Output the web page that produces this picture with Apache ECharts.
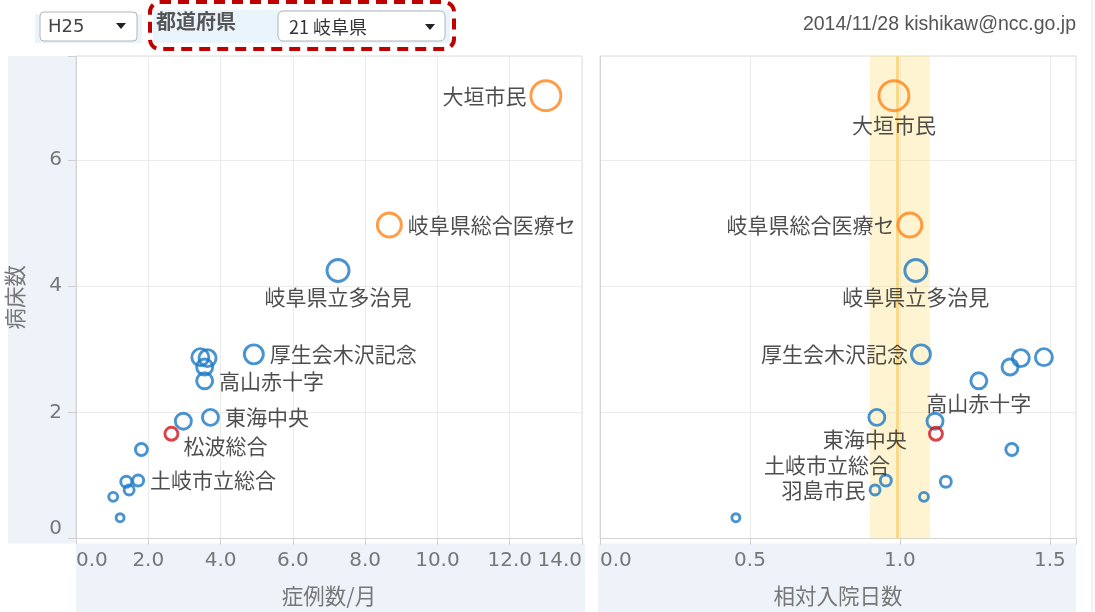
<!DOCTYPE html>
<html>
<head>
<meta charset="utf-8">
<script src="https://cdn.jsdelivr.net/npm/echarts@6/dist/echarts.min.js"></script>
<style>
  html, body { margin: 0; padding: 0; background: #fff; }
  #chart { width: 1095px; height: 612px; }
</style>
</head>
<body>
<div id="chart"></div>
<script>
// 病院ごとのデータ
const hospitalNames = ['大垣市民', '岐阜県総合医療セ', '岐阜県立多治見', '厚生会木沢記念', '', '', '', '高山赤十字',
  '東海中央', '', '松波総合', '', '土岐市立総合', '', '羽島市民', '', '']
const casesPerMonth = [13.0, 8.67, 7.25, 4.92, 3.44, 3.64, 3.56, 3.56, 3.72, 2.97, 2.64, 1.81, 1.72, 1.39, 1.47, 1.03, 1.22]
const relativeStay = [0.98, 1.033, 1.053, 1.07, 1.48, 1.403, 1.367, 1.263, 0.923, 1.117, 1.12, 1.373, 0.953, 1.153, 0.917, 1.08, 0.453]
const bedCount = [7.02, 4.97, 4.25, 2.92, 2.875, 2.86, 2.72, 2.5, 1.92, 1.86, 1.66, 1.41, 0.92, 0.9, 0.77, 0.66, 0.33]
const hospitalGroup = ['high', 'high', 'base', 'base', 'base', 'base', 'base', 'base', 'base', 'base', 'self', 'base', 'base', 'base', 'base', 'base', 'base']
const circleMeasure = [33, 27, 25, 22, 20, 20, 19, 19, 19, 19, 16, 15, 14, 14, 13, 12, 11]
const stayBand = [0.9, 1.1]
const stayMean = 0.99

const groupColor = { high: '#ff8418', base: '#1c78c4', self: '#d0141b' }
const cjk = '"Noto Sans CJK JP", sans-serif'
const num = '"DejaVu Sans", sans-serif'

// ラベル位置
const leftLabels = {
  '大垣市民': { position: 'left', distance: 3 },
  '岐阜県総合医療セ': { position: 'right' },
  '岐阜県立多治見': { position: 'bottom', distance: 4 },
  '厚生会木沢記念': { position: 'right' },
  '高山赤十字': { position: 'right' },
  '東海中央': { position: 'right' },
  '松波総合': { position: [20, 20], align: 'left', verticalAlign: 'middle' },
  '土岐市立総合': { position: 'right' }
}
const rightLabels = {
  '大垣市民': { position: 'bottom', distance: 2 },
  '岐阜県総合医療セ': { position: 'left', distance: 2 },
  '岐阜県立多治見': { position: 'bottom', distance: 4 },
  '厚生会木沢記念': { position: 'left', distance: 2 },
  '高山赤十字': { position: 'bottom', distance: 2 },
  '東海中央': { position: 'bottom', distance: 2, offset: [-12, 0] },
  '土岐市立総合': { position: [11, -9], align: 'right', verticalAlign: 'middle' },
  '羽島市民': { position: 'left', distance: 3 }
}

function buildData (xs, labelConf) {
  return hospitalNames.map((name, i) => {
    const conf = name ? labelConf[name] : null
    return {
      name,
      value: [xs[i], bedCount[i]],
      symbolSize: circleMeasure[i] - 3,
      itemStyle: {
        color: 'rgba(0,0,0,0)',
        borderColor: groupColor[hospitalGroup[i]],
        borderWidth: 2.9
      },
      label: conf
        ? Object.assign({ show: true, formatter: name, color: '#222', fontSize: 21, fontFamily: cjk }, conf)
        : { show: false }
    }
  })
}

function onStep (v, step) {
  return Math.abs(v / step - Math.round(v / step)) < 1e-6
}

const axisLineStyle = { show: true, lineStyle: { color: '#d4d4d4' } }
const splitLineStyle = { show: true, lineStyle: { color: '#ebebeb' } }
const axisNameStyle = { color: '#777', fontSize: 21.5, fontFamily: cjk }
const tickLabelStyle = { color: '#777', fontSize: 20, fontFamily: num, margin: 12 }

const chart = echarts.init(document.getElementById('chart'))
chart.setOption({
  backgroundColor: '#fff',
  animation: false,
  grid: [
    { left: 76, top: 56, width: 506, bottom: 68.5, show: true, borderColor: '#dcdcdc', backgroundColor: 'transparent' },
    { left: 600, top: 56, width: 476, bottom: 68.5, show: true, borderColor: '#dcdcdc', backgroundColor: 'transparent' }
  ],
  xAxis: [
    {
      gridIndex: 0,
      type: 'value',
      min: 0,
      max: 14,
      interval: 2,
      name: '症例数/月',
      nameLocation: 'middle',
      nameGap: 47,
      nameTextStyle: axisNameStyle,
      axisLine: axisLineStyle,
      axisTick: { show: true, length: 6, lineStyle: { color: '#cfcfcf' } },
      axisLabel: Object.assign({
        alignMinLabel: 'left',
        alignMaxLabel: 'right',
        formatter: v => v.toFixed(1)
      }, tickLabelStyle),
      splitLine: splitLineStyle
    },
    {
      gridIndex: 1,
      type: 'value',
      min: 0,
      max: 1.587,
      interval: 0.5,
      name: '相対入院日数',
      nameLocation: 'middle',
      nameGap: 47,
      nameTextStyle: axisNameStyle,
      axisLine: axisLineStyle,
      axisTick: { show: true, length: 6, lineStyle: { color: '#cfcfcf' } },
      axisLabel: Object.assign({
        alignMinLabel: 'left',
        formatter: v => onStep(v, 0.5) ? v.toFixed(1) : ''
      }, tickLabelStyle),
      splitLine: splitLineStyle
    }
  ],
  yAxis: [
    {
      gridIndex: 0,
      type: 'value',
      min: 0,
      max: 7.65,
      interval: 2,
      name: '病床数',
      nameLocation: 'middle',
      nameGap: 50,
      nameRotate: 90,
      nameTextStyle: axisNameStyle,
      axisLine: axisLineStyle,
      axisTick: { show: true, length: 8, lineStyle: { color: '#cfcfcf' } },
      axisLabel: Object.assign({
        verticalAlignMinLabel: 'bottom',
        formatter: v => onStep(v, 2) ? String(v) : ''
      }, tickLabelStyle, { margin: 14 }),
      splitLine: splitLineStyle
    },
    {
      gridIndex: 1,
      type: 'value',
      min: 0,
      max: 7.65,
      interval: 2,
      axisLine: axisLineStyle,
      axisTick: { show: false },
      axisLabel: { show: false },
      splitLine: splitLineStyle
    }
  ],
  series: [
    {
      type: 'scatter',
      xAxisIndex: 0,
      yAxisIndex: 0,
      symbol: 'circle',
      emphasis: { disabled: true },
      data: buildData(casesPerMonth, leftLabels)
    },
    {
      type: 'scatter',
      xAxisIndex: 1,
      yAxisIndex: 1,
      symbol: 'circle',
      emphasis: { disabled: true },
      markArea: {
        silent: true,
        z: 1,
        itemStyle: { color: 'rgba(255, 224, 120, 0.34)' },
        data: [[{ xAxis: stayBand[0] }, { xAxis: stayBand[1] }]]
      },
      markLine: {
        silent: true,
        z: 1,
        symbol: 'none',
        label: { show: false },
        lineStyle: { color: '#f9d88a', width: 3, type: 'solid' },
        data: [{ xAxis: stayMean }]
      },
      data: buildData(relativeStay, rightLabels)
    }
  ],
  graphic: [
    // 軸の背景
    { type: 'rect', z: -1, shape: { x: 8, y: 56, width: 68, height: 487.5 }, style: { fill: '#eef3fa' } },
    { type: 'rect', z: -1, shape: { x: 76, y: 543.5, width: 509, height: 70 }, style: { fill: '#eef3fa' } },
    { type: 'rect', z: -1, shape: { x: 598, y: 543.5, width: 478, height: 70 }, style: { fill: '#eef3fa' } },
    { type: 'line', z: -1, shape: { x1: 1092, y1: 0, x2: 1092, y2: 612 }, style: { stroke: '#e6e6e6', lineWidth: 1 } },
    // 年度
    { type: 'rect', shape: { x: 35, y: 14, width: 107, height: 29 }, style: { fill: '#eaf4fc' } },
    { type: 'rect', shape: { x: 40, y: 12, width: 97, height: 29, r: 4 }, style: { fill: '#fff', stroke: '#b4b4b4', lineWidth: 1 } },
    { type: 'text', style: { x: 48, y: 27, text: 'H25', fill: '#444', font: '18px "DejaVu Sans", sans-serif', verticalAlign: 'middle' } },
    { type: 'polygon', shape: { points: [[116, 23], [126, 23], [121, 29]] }, style: { fill: '#222' } },
    // 都道府県
    { type: 'rect', shape: { x: 153, y: 10, width: 297, height: 33 }, style: { fill: '#eaf4fc' } },
    { type: 'text', style: { x: 156, y: 21, text: '都道府県', fill: '#555', font: 'bold 20px "Noto Sans CJK JP", sans-serif', verticalAlign: 'middle' } },
    { type: 'rect', shape: { x: 278, y: 11, width: 167, height: 30, r: 5 }, style: { fill: '#fff', stroke: '#b4b4b4', lineWidth: 1 } },
    { type: 'text', style: { x: 289, y: 27, text: '21 岐阜県', fill: '#333', font: '18px "Noto Sans CJK JP", sans-serif', verticalAlign: 'middle' } },
    { type: 'polygon', shape: { points: [[425, 24], [435, 24], [430, 30]] }, style: { fill: '#222' } },
    { type: 'rect', shape: { x: 150, y: 2, width: 304, height: 47, r: 10 }, style: { fill: 'none', stroke: '#c00000', lineWidth: 4, lineDash: [11, 7] } },
    // 日付
    { type: 'text', style: { x: 1076, y: 25, text: '2014/11/28 kishikaw@ncc.go.jp', fill: '#555', font: '19.5px "Liberation Sans", Arial, sans-serif', align: 'right', verticalAlign: 'middle' } }
  ]
})
</script>
</body>
</html>
